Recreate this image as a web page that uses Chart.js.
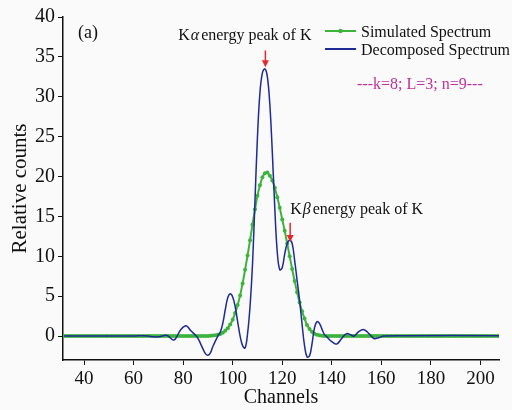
<!DOCTYPE html>
<html>
<head>
<meta charset="utf-8">
<script src="https://cdn.jsdelivr.net/npm/chart.js@4.4.1/dist/chart.umd.min.js"></script>
<style>
  html, body { margin: 0; padding: 0; background: #fafafa; }
  #wrap { width: 512px; height: 410px; position: relative; }
</style>
</head>
<body>
<div id="wrap"><canvas id="chart-container" width="512" height="410"></canvas></div>
<script>
// simulated spectrum, one value per channel starting at simStart
const simStart = 32;
const simCounts = [
  0, 0, 0, 0, 0, 0, 0, 0, 0, 0,
  0, 0, 0, 0, 0, 0, 0, 0, 0, 0,
  0, 0, 0, 0, 0, 0, 0, 0, 0, 0,
  0, 0, 0, 0, 0, 0, 0, 0, 0, 0,
  0, 0, 0, 0, 0, 0, 0, 0, 0, 0,
  0, 0, 0, 0, 0, 0, 0, 0,
  0.02, 0.03, 0.06, 0.1, 0.17, 0.27, 0.43, 0.66, 0.99, 1.45,
  2.06, 2.9, 3.9, 5.1, 6.6, 8.3, 10.1, 12.0, 14.0, 15.9,
  17.6, 18.9, 19.9, 20.4, 20.5, 20.1, 19.5, 18.6, 17.4, 16.1,
  14.6, 13.2, 11.6, 10.0, 8.4, 6.9, 5.5, 4.2, 3.1, 2.2,
  1.4, 0.9, 0.55, 0.3, 0.18, 0.1, 0.05, 0.02, 0,
  0, 0, 0, 0, 0, 0, 0, 0, 0, 0,
  0, 0, 0, 0, 0, 0, 0, 0, 0, 0,
  0, 0, 0, 0, 0, 0, 0, 0, 0, 0,
  0, 0, 0, 0, 0, 0, 0, 0, 0, 0,
  0, 0, 0, 0, 0, 0, 0, 0, 0, 0,
  0, 0, 0, 0, 0, 0, 0, 0, 0, 0,
  0, 0, 0, 0, 0, 0, 0, 0, 0, 0
];

// decomposed spectrum
const decompChannels = [32, 40, 50, 60, 64, 66, 68, 70, 72, 73, 74, 76, 77, 79, 81, 82, 83, 85, 86, 88, 89, 90, 91, 92, 94, 95, 96, 97, 98, 99, 100, 101, 102, 103, 104, 105, 106, 107, 108, 109, 110, 111, 112, 113, 114, 115, 116, 117, 118, 119, 120, 121, 122, 123, 124, 125, 126, 127, 128, 129, 130, 131, 132, 133, 134, 135, 136, 137, 138, 140, 142, 144, 146, 148, 149, 151, 153, 155, 157, 159, 161, 170, 208];
const decompCounts = [0, 0, 0, 0, 0.05, 0, -0.1, -0.1, 0.05, 0.1, 0, -0.5, -0.3, 0.8, 1.3, 1.1, 0.7, 0.1, -0.3, -1.6, -2.2, -2.4, -2.1, -1.3, 0, 0.5, 1.6, 3.3, 4.8, 5.3, 4.9, 3.7, 1.8, 0, -1.2, -1.5, 0.3, 3.7, 9, 17, 25, 30.5, 33, 33.5, 32.5, 29, 23, 16, 10.5, 8.3, 8.6, 10.3, 11.6, 12.0, 11.6, 9.5, 7, 4.5, 1.5, -1.2, -2.6, -2.5, -1, 1, 1.8, 1.6, 0.9, 0.2, -0.1, -0.7, -1.0, -0.3, 0.3, 0.1, 0, 0.6, 0.8, 0.3, -0.3, -0.2, 0, 0.05, 0.05];

const xTicks = [40, 60, 80, 100, 120, 140, 160, 180, 200];
const yTicks = [0, 5, 10, 15, 20, 25, 30, 35, 40];

const serif = '"Liberation Serif", "DejaVu Serif", serif';
const green = '#3cb43c';
const blue = '#1e2a96';

const annotations = {
  id: 'annotations',
  afterDraw(chart) {
    const ctx = chart.ctx;
    const xs = chart.scales.x;
    const ys = chart.scales.y;
    ctx.save();
    ctx.fillStyle = '#111';
    ctx.textBaseline = 'middle';

    ctx.font = '18px ' + serif;
    ctx.fillText('(a)', xs.getPixelForValue(37.6), ys.getPixelForValue(37.9));

    // peak labels: K + italic greek + rest
    function peakLabel(greek, ch, val) {
      let x = xs.getPixelForValue(ch);
      const y = ys.getPixelForValue(val);
      ctx.font = '16px ' + serif;
      ctx.fillText('K', x, y);
      x += ctx.measureText('K').width + 1;
      ctx.font = 'italic 16px ' + serif;
      ctx.fillText(greek, x, y);
      x += ctx.measureText(greek).width + 2;
      ctx.font = '16px ' + serif;
      ctx.fillText('energy peak of K', x, y);
    }
    peakLabel('\u03b1', 78, 37.6);
    peakLabel('\u03b2', 123.2, 15.8);

    // red arrows
    function arrow(ch, from, to) {
      const x = xs.getPixelForValue(ch);
      const y0 = ys.getPixelForValue(from);
      const y1 = ys.getPixelForValue(to);
      ctx.strokeStyle = '#e8262a';
      ctx.fillStyle = '#e8262a';
      ctx.lineWidth = 1.5;
      ctx.beginPath();
      ctx.moveTo(x, y0);
      ctx.lineTo(x, y1 - 5);
      ctx.stroke();
      ctx.beginPath();
      ctx.moveTo(x - 3.5, y1 - 7);
      ctx.lineTo(x + 3.5, y1 - 7);
      ctx.lineTo(x, y1);
      ctx.closePath();
      ctx.fill();
    }
    arrow(113.2, 35.8, 33.7);
    arrow(123.2, 14.2, 11.8);

    // legend
    ctx.lineWidth = 2;
    ctx.strokeStyle = green;
    ctx.beginPath();
    ctx.moveTo(325, 31);
    ctx.lineTo(356, 31);
    ctx.stroke();
    ctx.fillStyle = green;
    ctx.beginPath();
    ctx.arc(340.5, 31, 2.2, 0, Math.PI * 2);
    ctx.fill();
    ctx.strokeStyle = blue;
    ctx.beginPath();
    ctx.moveTo(325, 49);
    ctx.lineTo(356, 49);
    ctx.stroke();
    ctx.fillStyle = '#111';
    ctx.font = '16px ' + serif;
    ctx.fillText('Simulated Spectrum', 361, 33);
    ctx.fillText('Decomposed Spectrum', 361, 51);

    ctx.fillStyle = '#c0309a';
    ctx.font = '16px ' + serif;
    ctx.fillText('---k=8; L=3; n=9---', 357, 85);
    ctx.restore();
  }
};

const chart = new Chart(document.getElementById('chart-container'), {
  type: 'line',
  data: {
    datasets: [{
      label: 'Simulated Spectrum',
      data: simCounts.map((v, i) => ({ x: simStart + i, y: v })),
      borderColor: green,
      backgroundColor: green,
      borderWidth: 2,
      pointRadius: 2,
      pointBorderWidth: 0,
      tension: 0.3,
      order: 2
    }, {
      label: 'Decomposed Spectrum',
      data: decompChannels.map((c, i) => ({ x: c, y: decompCounts[i] })),
      borderColor: blue,
      borderWidth: 1.5,
      pointRadius: 0,
      tension: 0.4,
      order: 1
    }]
  },
  options: {
    responsive: false,
    animation: false,
    layout: { padding: { top: 17, right: 13, bottom: 0, left: 0 } },
    plugins: { legend: { display: false }, tooltip: { enabled: false } },
    scales: {
      x: {
        type: 'linear',
        min: 31.5,
        max: 207.5,
        afterBuildTicks: s => { s.ticks = xTicks.map(v => ({ value: v })); },
        afterFit: s => { s.height = 50; },
        grid: { drawOnChartArea: false, drawTicks: true, tickLength: 5, tickColor: '#111' },
        border: { display: true, color: '#111', width: 1.5 },
        ticks: { color: '#111', font: { family: serif, size: 19 }, padding: 3, maxRotation: 0 },
        title: { display: true, text: 'Channels', color: '#111', font: { family: serif, size: 20 }, padding: { top: 0, bottom: 0 } }
      },
      y: {
        type: 'linear',
        min: -3,
        max: 40,
        afterBuildTicks: s => { s.ticks = yTicks.map(v => ({ value: v })); },
        afterFit: s => { s.width = 63; },
        grid: { drawOnChartArea: false, drawTicks: true, tickLength: 5, tickColor: '#111' },
        border: { display: true, color: '#111', width: 1.5 },
        ticks: { color: '#111', font: { family: serif, size: 20 }, padding: 3 },
        title: { display: true, text: 'Relative counts', color: '#111', font: { family: serif, size: 21 }, padding: { top: 8, bottom: 0 } }
      }
    }
  },
  plugins: [annotations]
});
</script>
</body>
</html>
